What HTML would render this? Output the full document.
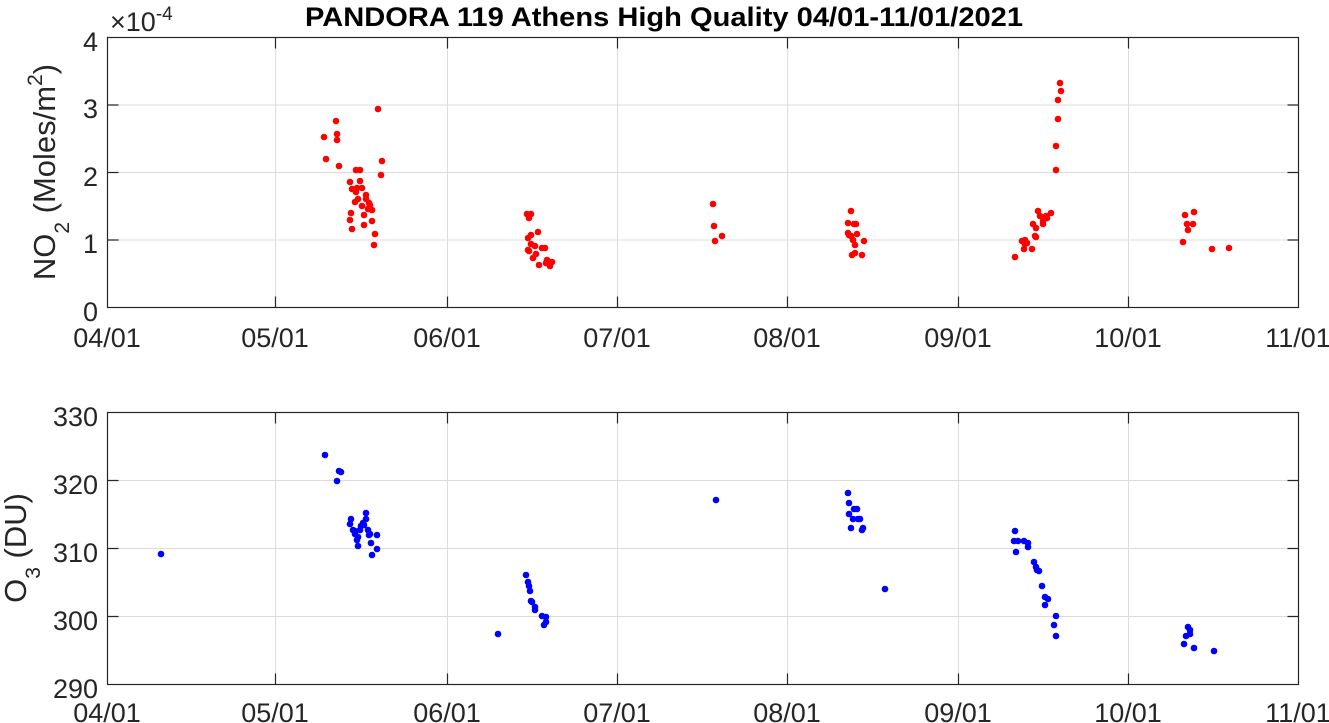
<!DOCTYPE html>
<html><head><meta charset="utf-8"><style>
html,body{margin:0;padding:0;background:#fff;}
svg{display:block;font-family:"Liberation Sans",Arial,sans-serif;}
</style></head><body>
<svg width="1329" height="723" viewBox="0 0 1329 723" xmlns="http://www.w3.org/2000/svg">
<rect width="1329" height="723" fill="#fff"/>
<g id="grid" stroke="#dcdcdc" stroke-width="1">
<line x1="275.5" y1="37.5" x2="275.5" y2="307.5"/><line x1="447.5" y1="37.5" x2="447.5" y2="307.5"/><line x1="617.5" y1="37.5" x2="617.5" y2="307.5"/><line x1="787.5" y1="37.5" x2="787.5" y2="307.5"/><line x1="958.5" y1="37.5" x2="958.5" y2="307.5"/><line x1="1128.5" y1="37.5" x2="1128.5" y2="307.5"/>
<line x1="107.5" y1="105" x2="1298.5" y2="105"/><line x1="107.5" y1="172.5" x2="1298.5" y2="172.5"/><line x1="107.5" y1="240" x2="1298.5" y2="240"/>
<line x1="275.5" y1="412.5" x2="275.5" y2="684.5"/><line x1="447.5" y1="412.5" x2="447.5" y2="684.5"/><line x1="617.5" y1="412.5" x2="617.5" y2="684.5"/><line x1="787.5" y1="412.5" x2="787.5" y2="684.5"/><line x1="958.5" y1="412.5" x2="958.5" y2="684.5"/><line x1="1128.5" y1="412.5" x2="1128.5" y2="684.5"/>
<line x1="107.5" y1="480.5" x2="1298.5" y2="480.5"/><line x1="107.5" y1="548.5" x2="1298.5" y2="548.5"/><line x1="107.5" y1="616.5" x2="1298.5" y2="616.5"/>
</g>
<g fill="#ff0000">
<circle cx="378" cy="109" r="3.3"/><circle cx="336" cy="121" r="3.3"/><circle cx="324" cy="137" r="3.3"/><circle cx="337" cy="134" r="3.3"/><circle cx="337" cy="140" r="3.3"/><circle cx="326" cy="159" r="3.3"/><circle cx="339" cy="166" r="3.3"/><circle cx="356" cy="170" r="3.3"/><circle cx="360" cy="170" r="3.3"/><circle cx="350" cy="182" r="3.3"/><circle cx="360" cy="181" r="3.3"/><circle cx="352" cy="189" r="3.3"/><circle cx="357" cy="188" r="3.3"/><circle cx="362" cy="188" r="3.3"/><circle cx="355" cy="202" r="3.3"/><circle cx="358" cy="199" r="3.3"/><circle cx="366" cy="199" r="3.3"/><circle cx="369" cy="203" r="3.3"/><circle cx="362" cy="206" r="3.3"/><circle cx="368" cy="209" r="3.3"/><circle cx="372" cy="210" r="3.3"/><circle cx="364" cy="215" r="3.3"/><circle cx="351" cy="213" r="3.3"/><circle cx="364" cy="225" r="3.3"/><circle cx="350" cy="220" r="3.3"/><circle cx="372" cy="221" r="3.3"/><circle cx="352" cy="229" r="3.3"/><circle cx="375" cy="234" r="3.3"/><circle cx="374" cy="245" r="3.3"/><circle cx="382" cy="161" r="3.3"/><circle cx="381" cy="175" r="3.3"/><circle cx="356" cy="192" r="3.3"/><circle cx="366" cy="195" r="3.3"/><circle cx="370" cy="205" r="3.3"/>
<circle cx="527" cy="214" r="3.3"/><circle cx="529" cy="218" r="3.3"/><circle cx="531" cy="214" r="3.3"/><circle cx="538" cy="232" r="3.3"/><circle cx="528" cy="238" r="3.3"/><circle cx="531" cy="244" r="3.3"/><circle cx="528" cy="250" r="3.3"/><circle cx="542" cy="248" r="3.3"/><circle cx="535" cy="246" r="3.3"/><circle cx="529" cy="251" r="3.3"/><circle cx="536" cy="254" r="3.3"/><circle cx="533" cy="258" r="3.3"/><circle cx="545" cy="248" r="3.3"/><circle cx="547" cy="260" r="3.3"/><circle cx="539" cy="265" r="3.3"/><circle cx="552" cy="262" r="3.3"/><circle cx="550" cy="266" r="3.3"/><circle cx="546" cy="263" r="3.3"/><circle cx="531" cy="235" r="3.3"/>
<circle cx="713" cy="204" r="3.3"/><circle cx="714" cy="226" r="3.3"/><circle cx="715" cy="241" r="3.3"/><circle cx="722" cy="236" r="3.3"/>
<circle cx="851" cy="211" r="3.3"/><circle cx="848" cy="223" r="3.3"/><circle cx="854" cy="224" r="3.3"/><circle cx="856" cy="224" r="3.3"/><circle cx="849" cy="235" r="3.3"/><circle cx="851" cy="236" r="3.3"/><circle cx="857" cy="234" r="3.3"/><circle cx="853" cy="240" r="3.3"/><circle cx="855" cy="245" r="3.3"/><circle cx="864" cy="241" r="3.3"/><circle cx="855" cy="253" r="3.3"/><circle cx="852" cy="255" r="3.3"/><circle cx="862" cy="255" r="3.3"/><circle cx="848" cy="233" r="3.3"/>
<circle cx="1060" cy="83" r="3.3"/><circle cx="1061" cy="91" r="3.3"/><circle cx="1058" cy="100" r="3.3"/><circle cx="1058" cy="119" r="3.3"/><circle cx="1056" cy="146" r="3.3"/><circle cx="1056" cy="170" r="3.3"/><circle cx="1038" cy="211" r="3.3"/><circle cx="1051" cy="213" r="3.3"/><circle cx="1040" cy="216" r="3.3"/><circle cx="1046" cy="216" r="3.3"/><circle cx="1043" cy="221" r="3.3"/><circle cx="1047" cy="218" r="3.3"/><circle cx="1033" cy="224" r="3.3"/><circle cx="1043" cy="224" r="3.3"/><circle cx="1036" cy="228" r="3.3"/><circle cx="1025" cy="240" r="3.3"/><circle cx="1022" cy="241" r="3.3"/><circle cx="1025" cy="244" r="3.3"/><circle cx="1027" cy="243" r="3.3"/><circle cx="1035" cy="236" r="3.3"/><circle cx="1036" cy="237" r="3.3"/><circle cx="1024" cy="249" r="3.3"/><circle cx="1032" cy="249" r="3.3"/><circle cx="1015" cy="257" r="3.3"/>
<circle cx="1185" cy="215" r="3.3"/><circle cx="1194" cy="212" r="3.3"/><circle cx="1187" cy="224" r="3.3"/><circle cx="1193" cy="224" r="3.3"/><circle cx="1188" cy="230" r="3.3"/><circle cx="1183" cy="242" r="3.3"/><circle cx="1212" cy="249" r="3.3"/><circle cx="1229" cy="248" r="3.3"/>
</g>
<g fill="#0000ff">
<circle cx="161" cy="554" r="3.3"/>
<circle cx="325" cy="455" r="3.3"/><circle cx="339" cy="471" r="3.3"/><circle cx="341" cy="472" r="3.3"/><circle cx="337" cy="481" r="3.3"/><circle cx="351" cy="519" r="3.3"/><circle cx="350" cy="524" r="3.3"/><circle cx="353" cy="530" r="3.3"/><circle cx="355" cy="534" r="3.3"/><circle cx="358" cy="537" r="3.3"/><circle cx="357" cy="540" r="3.3"/><circle cx="358" cy="546" r="3.3"/><circle cx="361" cy="526" r="3.3"/><circle cx="364" cy="525" r="3.3"/><circle cx="366" cy="519" r="3.3"/><circle cx="366" cy="513" r="3.3"/><circle cx="363" cy="523" r="3.3"/><circle cx="368" cy="530" r="3.3"/><circle cx="370" cy="534" r="3.3"/><circle cx="369" cy="535" r="3.3"/><circle cx="377" cy="535" r="3.3"/><circle cx="371" cy="543" r="3.3"/><circle cx="377" cy="549" r="3.3"/><circle cx="372" cy="555" r="3.3"/><circle cx="355" cy="531" r="3.3"/><circle cx="360" cy="530" r="3.3"/>
<circle cx="526" cy="575" r="3.3"/><circle cx="528" cy="582" r="3.3"/><circle cx="529" cy="586" r="3.3"/><circle cx="530" cy="591" r="3.3"/><circle cx="531" cy="601" r="3.3"/><circle cx="532" cy="602" r="3.3"/><circle cx="535" cy="607" r="3.3"/><circle cx="535" cy="610" r="3.3"/><circle cx="542" cy="616" r="3.3"/><circle cx="546" cy="617" r="3.3"/><circle cx="546" cy="622" r="3.3"/><circle cx="544" cy="625" r="3.3"/><circle cx="498" cy="634" r="3.3"/>
<circle cx="716" cy="500" r="3.3"/>
<circle cx="848" cy="493" r="3.3"/><circle cx="849" cy="503" r="3.3"/><circle cx="854" cy="509" r="3.3"/><circle cx="857" cy="509" r="3.3"/><circle cx="849" cy="514" r="3.3"/><circle cx="853" cy="519" r="3.3"/><circle cx="858" cy="519" r="3.3"/><circle cx="860" cy="519" r="3.3"/><circle cx="851" cy="528" r="3.3"/><circle cx="863" cy="528" r="3.3"/><circle cx="862" cy="530" r="3.3"/><circle cx="885" cy="589" r="3.3"/>
<circle cx="1015" cy="531" r="3.3"/><circle cx="1014" cy="541" r="3.3"/><circle cx="1018" cy="541" r="3.3"/><circle cx="1024" cy="541" r="3.3"/><circle cx="1028" cy="543" r="3.3"/><circle cx="1028" cy="547" r="3.3"/><circle cx="1016" cy="552" r="3.3"/><circle cx="1034" cy="562" r="3.3"/><circle cx="1036" cy="567" r="3.3"/><circle cx="1037" cy="570" r="3.3"/><circle cx="1039" cy="571" r="3.3"/><circle cx="1042" cy="586" r="3.3"/><circle cx="1045" cy="597" r="3.3"/><circle cx="1048" cy="599" r="3.3"/><circle cx="1045" cy="605" r="3.3"/><circle cx="1056" cy="616" r="3.3"/><circle cx="1054" cy="625" r="3.3"/><circle cx="1056" cy="636" r="3.3"/>
<circle cx="1188" cy="627" r="3.3"/><circle cx="1190" cy="630" r="3.3"/><circle cx="1186" cy="636" r="3.3"/><circle cx="1190" cy="634" r="3.3"/><circle cx="1184" cy="644" r="3.3"/><circle cx="1194" cy="648" r="3.3"/><circle cx="1214" cy="651" r="3.3"/>
</g>
<g fill="none" stroke="#262626" stroke-width="1.2">
<rect x="107.5" y="37.5" width="1191" height="270"/>
<rect x="107.5" y="412.5" width="1191" height="272"/>
<path d="M275.5 307.5v-11M447.5 307.5v-11M617.5 307.5v-11M787.5 307.5v-11M958.5 307.5v-11M1128.5 307.5v-11M275.5 37.5v11M447.5 37.5v11M617.5 37.5v11M787.5 37.5v11M958.5 37.5v11M1128.5 37.5v11"/>
<path d="M107.5 105h11M107.5 172.5h11M107.5 240h11M1298.5 105h-11M1298.5 172.5h-11M1298.5 240h-11"/>
<path d="M275.5 684.5v-11M447.5 684.5v-11M617.5 684.5v-11M787.5 684.5v-11M958.5 684.5v-11M1128.5 684.5v-11M275.5 412.5v11M447.5 412.5v11M617.5 412.5v11M787.5 412.5v11M958.5 412.5v11M1128.5 412.5v11"/>
<path d="M107.5 480.5h11M107.5 548.5h11M107.5 616.5h11M1298.5 480.5h-11M1298.5 548.5h-11M1298.5 616.5h-11"/>
</g>
<g fill="#262626" font-size="27">
<text x="664" y="26" font-weight="bold" font-size="27" fill="#000" text-anchor="middle" textLength="718" lengthAdjust="spacingAndGlyphs">PANDORA 119 Athens High Quality 04/01-11/01/2021</text>
<text x="110" y="31" font-size="27">×10<tspan dy="-11" font-size="19">-4</tspan></text>
<g text-anchor="end">
<text x="98" y="51">4</text><text x="98" y="118">3</text><text x="98" y="186">2</text><text x="98" y="253">1</text><text x="98" y="321">0</text>
<text x="98" y="426">330</text><text x="98" y="494">320</text><text x="98" y="562">310</text><text x="98" y="630">300</text><text x="98" y="698">290</text>
</g>
<g text-anchor="middle">
<text x="107" y="347">04/01</text><text x="275" y="347">05/01</text><text x="447" y="347">06/01</text><text x="617" y="347">07/01</text><text x="787" y="347">08/01</text><text x="958" y="347">09/01</text><text x="1128" y="347">10/01</text><text x="1298" y="347">11/01</text>
<text x="107" y="722">04/01</text><text x="275" y="722">05/01</text><text x="447" y="722">06/01</text><text x="617" y="722">07/01</text><text x="787" y="722">08/01</text><text x="958" y="722">09/01</text><text x="1128" y="722">10/01</text><text x="1298" y="722">11/01</text>
</g>
<text transform="translate(55,172) rotate(-90)" text-anchor="middle" font-size="31">NO<tspan dy="14" font-size="21">2</tspan><tspan dy="-14"> (Moles/m</tspan><tspan dy="-13" font-size="21">2</tspan><tspan dy="13">)</tspan></text>
<text transform="translate(26,548) rotate(-90)" text-anchor="middle" font-size="31">O<tspan dy="14" font-size="21">3</tspan><tspan dy="-14"> (DU)</tspan></text>
</g>
</svg>
</body></html>
